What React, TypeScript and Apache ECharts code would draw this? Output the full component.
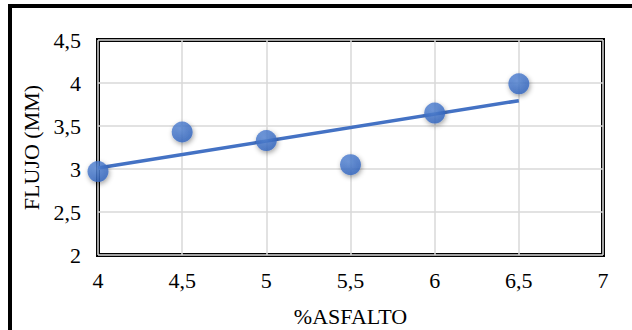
import React, { useEffect, useRef } from "react";
import * as echarts from "echarts";

const asphaltPct: number[] = [4, 4.5, 5, 5.5, 6, 6.5];
const flowMm: number[] = [2.97, 3.43, 3.33, 3.05, 3.65, 3.99];
const xTicks = { min: 4, max: 7, interval: 0.5 };
const yTicks = { min: 2, max: 4.5, interval: 0.5 };

function linearFit(xs: number[], ys: number[]) {
  const n = xs.length;
  const mx = xs.reduce((a, b) => a + b, 0) / n;
  const my = ys.reduce((a, b) => a + b, 0) / n;
  let sxy = 0, sxx = 0;
  for (let i = 0; i < n; i++) {
    sxy += (xs[i] - mx) * (ys[i] - my);
    sxx += (xs[i] - mx) * (xs[i] - mx);
  }
  const slope = sxy / sxx;
  return { slope, intercept: my - slope * mx };
}

const fmt = (v: number) => String(v).replace(".", ",");

export default function App() {
  const ref = useRef<HTMLDivElement>(null);
  useEffect(() => {
    if (!ref.current) return;
    const chart = echarts.init(ref.current, null, { renderer: "svg" });
    const fit = linearFit(asphaltPct, flowMm);
    const x0 = asphaltPct[0];
    const x1 = asphaltPct[asphaltPct.length - 1];
    const trend = [
      [x0, fit.intercept + fit.slope * x0],
      [x1, fit.intercept + fit.slope * x1],
    ];
    const font = "'Liberation Serif', 'Times New Roman', serif";
    chart.setOption({
      animation: false,
      backgroundColor: "#ffffff",
      graphic: [
        {
          type: "rect",
          shape: { x: 10, y: 6, width: 700, height: 400 },
          style: { fill: "none", stroke: "#000", lineWidth: 4 },
          silent: true,
        },
      ],
      grid: {
        left: 98,
        top: 40,
        right: 29,
        bottom: 75,
        show: true,
        borderColor: "#000",
        borderWidth: 4,
        backgroundColor: "transparent",
        outerBoundsMode: "none",
        containLabel: false,
      },
      xAxis: {
        type: "value",
        min: xTicks.min,
        max: xTicks.max,
        interval: xTicks.interval,
        name: "%ASFALTO",
        nameLocation: "middle",
        nameGap: 50,
        nameTextStyle: { fontFamily: font, fontSize: 22, color: "#000" },
        axisLine: { show: false },
        axisTick: { show: false },
        axisLabel: {
          formatter: fmt,
          fontFamily: font,
          fontSize: 22,
          color: "#000",
          margin: 14,
        },
        splitLine: { show: true, lineStyle: { color: "#d9d9d9", width: 1.5 } },
      },
      yAxis: {
        type: "value",
        min: yTicks.min,
        max: yTicks.max,
        interval: yTicks.interval,
        name: "FLUJO (MM)",
        nameLocation: "middle",
        nameGap: 53,
        nameRotate: 90,
        nameTextStyle: { fontFamily: font, fontSize: 22, color: "#000" },
        axisLine: { show: false },
        axisTick: { show: false },
        axisLabel: {
          formatter: fmt,
          fontFamily: font,
          fontSize: 22,
          color: "#000",
          margin: 17,
        },
        splitLine: { show: true, lineStyle: { color: "#d9d9d9", width: 1.5 } },
      },
      series: [
        {
          type: "line",
          data: trend,
          symbol: "none",
          lineStyle: { color: "#4472C4", width: 3.5 },
          z: 2,
        },
        {
          type: "scatter",
          data: asphaltPct.map((x, i) => [x, flowMm[i]]),
          symbol: "circle",
          symbolSize: 21,
          itemStyle: {
            color: {
              type: "radial",
              x: 0.4,
              y: 0.35,
              r: 0.7,
              colorStops: [
                { offset: 0, color: "#5a8ad8" },
                { offset: 1, color: "#2f62bd" },
              ],
            },
            shadowBlur: 5,
            shadowOffsetX: 1,
            shadowOffsetY: 2,
            shadowColor: "rgba(0,0,0,0.45)",
          },
          z: 3,
        },
      ],
    });
    return () => chart.dispose();
  }, []);
  return (
    <div
      ref={ref}
      style={{ position: "absolute", left: 0, top: 0, width: 632, height: 330 }}
    />
  );
}
